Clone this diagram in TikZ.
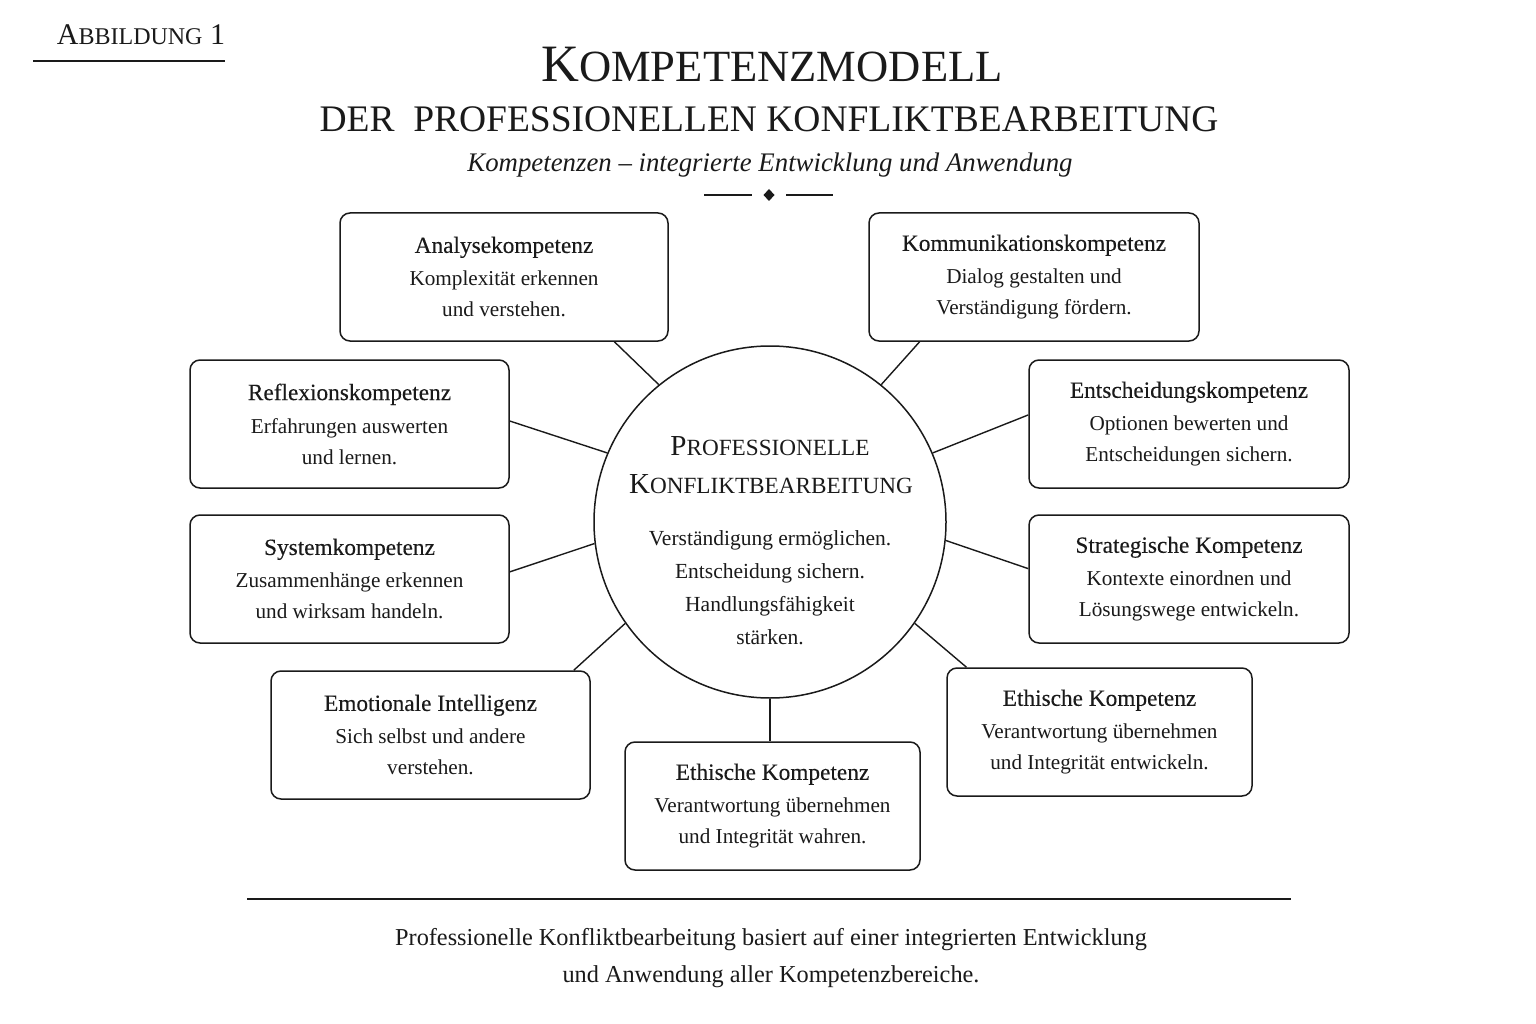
\documentclass[tikz,border=0pt]{standalone}
\usepackage{fontspec}
\setmainfont{Liberation Serif}
\newfontfamily\headfont[FakeBold=0.25]{Liberation Serif}
\usetikzlibrary{calc}
\definecolor{ink}{HTML}{1A1A1A}
\tikzset{
  every node/.style={text=ink},
  box/.style={draw=ink, line width=1.5pt, rounded corners=10pt, fill=white, inner sep=0pt,
    align=center, minimum height=128pt, font=\fontsize{21.2}{31}\selectfont},
  hub/.style={draw=ink, line width=1.5pt, circle, minimum size=352pt, inner sep=0pt},
  conn/.style={draw=ink, line width=1.4pt},
  rulefig/.style={draw=ink, line width=1.8pt},
  txt/.style={anchor=base, inner sep=0pt},
}
\newcommand\bhead[1]{{\headfont\fontsize{23.3}{31}\selectfont #1}\\[2pt]}
\begin{document}
\begin{tikzpicture}[x=1pt,y=-1pt]
\useasboundingbox (0,0) rectangle (1536,1024);
\fill[white] (0,0) rectangle (1536,1024);

% header
\node[txt] (fig) at (141,45) {\fontsize{30}{30}\selectfont A{\fontsize{24}{24}\selectfont BBILDUNG} 1};
\draw[rulefig] (33,61) -- (225,61);

\node[txt] (t1) at (772,82) {\fontsize{52.5}{52}\selectfont K\fontsize{44.6}{44}\selectfont OMPETENZMODELL};
\node[txt] (t2) at (769,132) {\fontsize{37.5}{38}\selectfont DER\hspace{0.5em}PROFESSIONELLEN KONFLIKTBEARBEITUNG};
\node[txt] (t3) at (770,172) {\fontsize{26.8}{27}\selectfont\itshape Kompetenzen – integrierte Entwicklung und Anwendung};
\fill[ink] (769,189) -- (774.5,195) -- (769,201) -- (763.5,195) -- cycle;
\draw[ink, line width=1.3pt] (704,195) -- (752,195);
\draw[ink, line width=1.3pt] (786,195) -- (833,195);

% hub
\node[hub] (c) at (770,522) {};
\node[txt] (h1) at (770,455) {\fontsize{29}{29}\selectfont P\fontsize{23.2}{23}\selectfont ROFESSIONELLE};
\node[txt] (h2) at (771,493) {\fontsize{29}{29}\selectfont K\fontsize{23.2}{23}\selectfont ONFLIKTBEARBEITUNG};
\node[txt] (h3) at (770,545) {\fontsize{21.5}{21}\selectfont Verständigung ermöglichen.};
\node[txt] (h4) at (770,578) {\fontsize{21.5}{21}\selectfont Entscheidung sichern.};
\node[txt] (h5) at (770,611) {\fontsize{21.5}{21}\selectfont Handlungsfähigkeit};
\node[txt] (h6) at (770,644) {\fontsize{21.5}{21}\selectfont stärken.};

% boxes
\node[box, minimum width=328pt] (b1) at (504,277) {\bhead{Analysekompetenz}Komplexität erkennen\\und verstehen.};
\node[box, minimum width=330pt] (b2) at (1034,277) {\bhead{Kommunikationskompetenz}Dialog gestalten und\\Verständigung fördern.};
\node[box, minimum width=319pt] (b3) at (349.5,424) {\bhead{Reflexionskompetenz}Erfahrungen auswerten\\und lernen.};
\node[box, minimum width=320pt] (b4) at (1189,424) {\bhead{Entscheidungskompetenz}Optionen bewerten und\\Entscheidungen sichern.};
\node[box, minimum width=319pt] (b5) at (349.5,579) {\bhead{Systemkompetenz}Zusammenhänge erkennen\\und wirksam handeln.};
\node[box, minimum width=320pt] (b6) at (1189,579) {\bhead{Strategische Kompetenz}Kontexte einordnen und\\Lösungswege entwickeln.};
\node[box, minimum width=319pt] (b7) at (430.5,735) {\bhead{Emotionale Intelligenz}Sich selbst und andere\\verstehen.};
\node[box, minimum width=295pt] (b8) at (772.5,806) {\bhead{Ethische Kompetenz}Verantwortung übernehmen\\und Integrität wahren.};
\node[box, minimum width=305pt] (b9) at (1099.5,732) {\bhead{Ethische Kompetenz}Verantwortung übernehmen\\und Integrität entwickeln.};

% connectors
\draw[conn] (c.129.4) -- ($(b1.south west)!0.835!(b1.south east)$);
\draw[conn] (c.51.3) -- ($(b2.south west)!0.155!(b2.south east)$);
\draw[conn] (c.157.2) -- ($(b3.north east)!0.477!(b3.south east)$);
\draw[conn] (c.23.5) -- ($(b4.north west)!0.43!(b4.south west)$);
\draw[conn] (c.187.6) -- ($(b5.north east)!0.445!(b5.south east)$);
\draw[conn] (c.-6.8) -- ($(b6.north west)!0.42!(b6.south west)$);
\draw[conn] (c.215.4) -- ($(b7.north west)!0.947!(b7.north east)$);
\draw[conn] (c.south) -- (c.south |- b8.north);
\draw[conn] (c.-35.2) -- ($(b9.north west)!0.066!(b9.north east)$);

% footer
\draw[rulefig] (247,899) -- (1291,899);
\node[txt] (f1) at (771,945) {\fontsize{24.3}{24}\selectfont Professionelle Konfliktbearbeitung basiert auf einer integrierten Entwicklung};
\node[txt] (f2) at (771,982) {\fontsize{24.3}{24}\selectfont und Anwendung aller Kompetenzbereiche.};
\end{tikzpicture}
\end{document}
